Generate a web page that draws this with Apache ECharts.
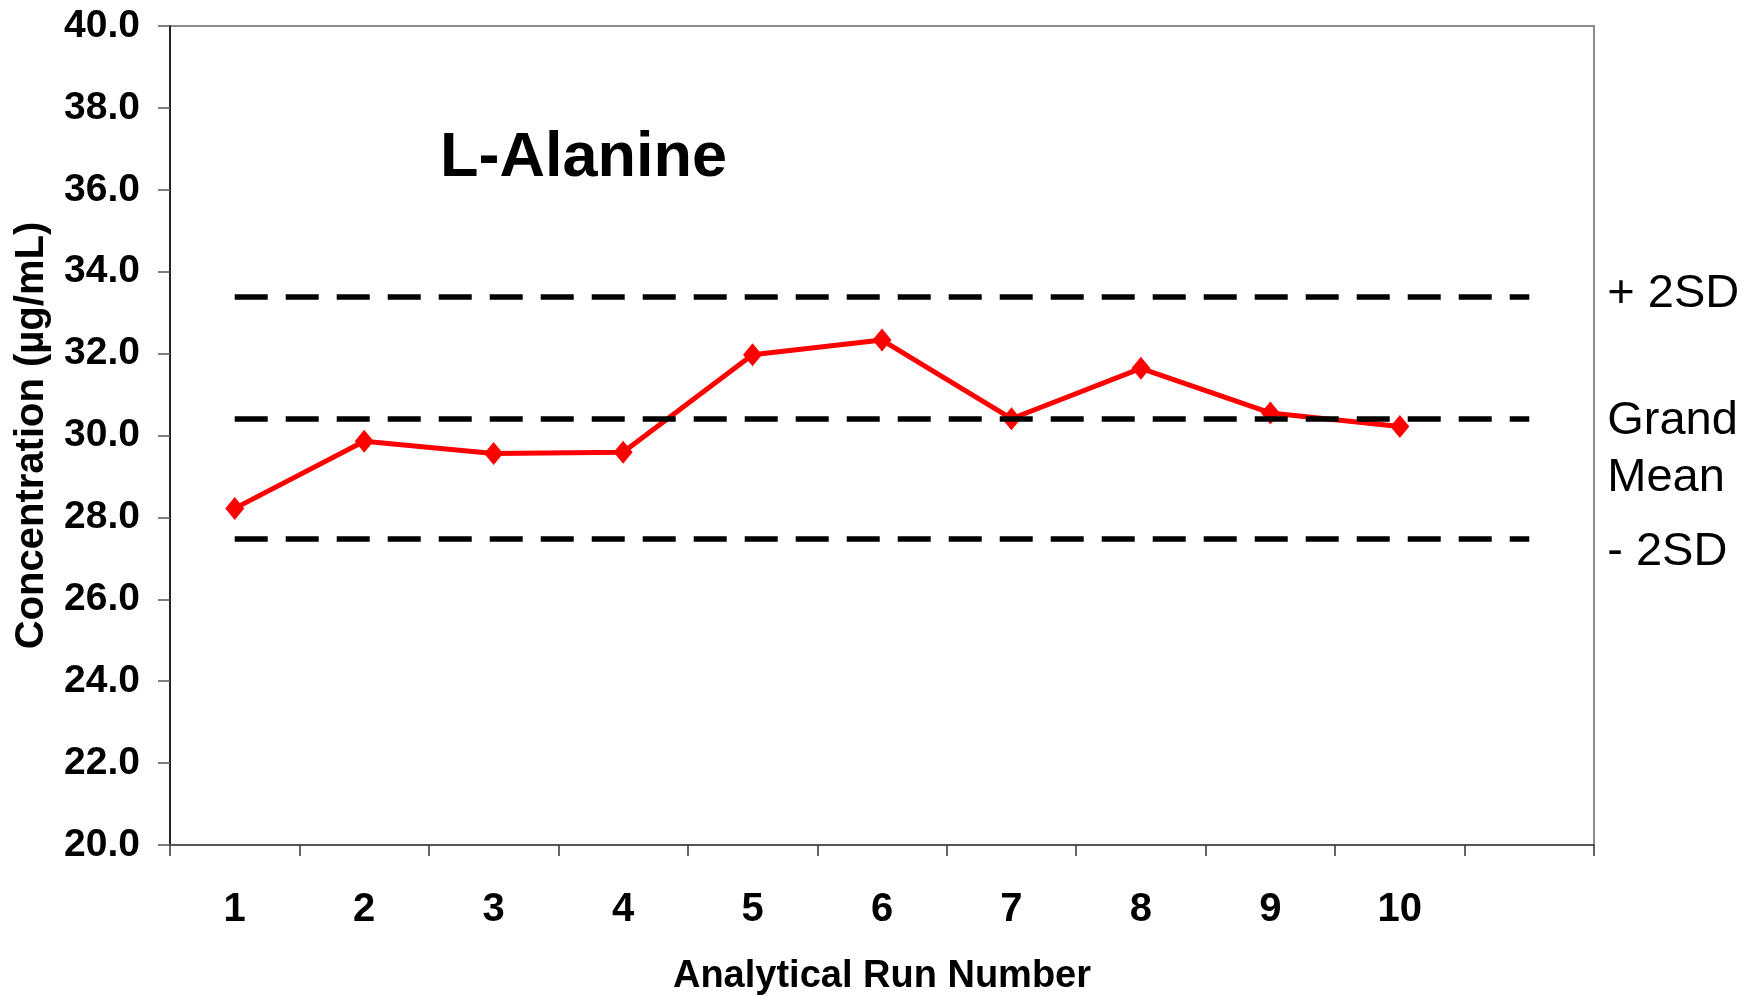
<!DOCTYPE html>
<html>
<head>
<meta charset="utf-8">
<title>L-Alanine</title>
<script src="https://cdn.jsdelivr.net/npm/echarts@6/dist/echarts.min.js"></script>
<style>
    html, body { margin: 0; padding: 0; background: #fff; }
    #chart { width: 1760px; height: 996px; }
</style>
</head>
<body>
<div id="chart"></div>
<script>
    // run numbers (last slot is empty, axis runs one category past run 10)
    var runs = ['1', '2', '3', '4', '5', '6', '7', '8', '9', '10', '']
    var concentration = [28.22, 29.86, 29.56, 29.59, 31.97, 32.33, 30.41, 31.64, 30.55, 30.22]
    var limitValues = [33.4, 30.41, 27.48]
    var limitLabels = ['{t|+ 2SD}\n{s| }', '{s| }\n{t|Grand}\n{t|Mean}', '{s| }\n{t|- 2SD}']
    // spacer line heights, used to nudge each label off its line
    var limitSpacer = [4, 62, 27]

    var font = '"Liberation Sans", Arial, sans-serif'
    var myChart = echarts.init(document.getElementById('chart'))

    var limitLines = limitValues.map(function(v, i) {
        return [{
            coord: [0, v]
        }, {
            coord: [runs.length - 1, v],
            label: {
                formatter: limitLabels[i],
                rich: {
                    t: { fontFamily: font, fontSize: 47, lineHeight: 57, color: '#000' },
                    s: { fontSize: 4, lineHeight: limitSpacer[i] }
                }
            }
        }]
    })

    var option = {
        animation: false,
        backgroundColor: '#fff',
        title: {
            text: 'L-Alanine',
            left: 435,
            top: 122,
            textStyle: {
                fontFamily: font,
                fontSize: 63,
                fontWeight: 'bold',
                color: '#000'
            }
        },
        grid: {
            left: 170,
            right: 166,
            top: 26,
            bottom: 151,
            outerBoundsMode: 'none',
            show: true,
            borderColor: '#8c8c8c',
            borderWidth: 2
        },
        xAxis: {
            type: 'category',
            data: runs,
            boundaryGap: true,
            name: 'Analytical Run Number',
            nameLocation: 'middle',
            nameGap: 113,
            nameTextStyle: {
                fontFamily: font,
                fontSize: 38,
                fontWeight: 'bold',
                color: '#000'
            },
            axisLine: {
                show: true,
                lineStyle: { color: '#555', width: 2 }
            },
            axisTick: {
                show: true,
                alignWithLabel: false,
                interval: 0,
                length: 11,
                lineStyle: { color: '#333', width: 1.5 }
            },
            axisLabel: {
                interval: 0,
                margin: 45,
                fontFamily: font,
                fontSize: 40,
                fontWeight: 'bold',
                color: '#000'
            },
            splitLine: { show: false }
        },
        yAxis: {
            type: 'value',
            min: 20,
            max: 40,
            interval: 2,
            name: 'Concentration (µg/mL)',
            nameLocation: 'middle',
            nameGap: 118,
            nameTextStyle: {
                fontFamily: font,
                fontSize: 40,
                fontWeight: 'bold',
                color: '#000'
            },
            axisLine: {
                show: true,
                lineStyle: { color: '#222', width: 2 }
            },
            axisTick: {
                show: true,
                length: 12,
                lineStyle: { color: '#555', width: 1.5 }
            },
            axisLabel: {
                margin: 30,
                fontFamily: font,
                fontSize: 39,
                fontWeight: 'bold',
                color: '#000',
                formatter: function(v) {
                    return v.toFixed(1)
                }
            },
            splitLine: { show: false }
        },
        series: [{
            name: 'limits',
            type: 'line',
            data: [],
            z: 1,
            markLine: {
                silent: true,
                symbol: ['none', 'none'],
                lineStyle: {
                    color: '#000',
                    width: 5.5,
                    type: [33, 18]
                },
                label: {
                    show: true,
                    position: 'end',
                    distance: 78,
                    fontFamily: font,
                    fontSize: 47,
                    color: '#000'
                },
                data: limitLines
            }
        }, {
            name: 'L-Alanine',
            type: 'line',
            data: concentration,
            z: 3,
            symbol: 'diamond',
            symbolSize: [19, 23],
            lineStyle: { color: '#ff0000', width: 5 },
            itemStyle: { color: '#ff0000' }
        }]
    }
    myChart.setOption(option)
</script>
</body>
</html>
